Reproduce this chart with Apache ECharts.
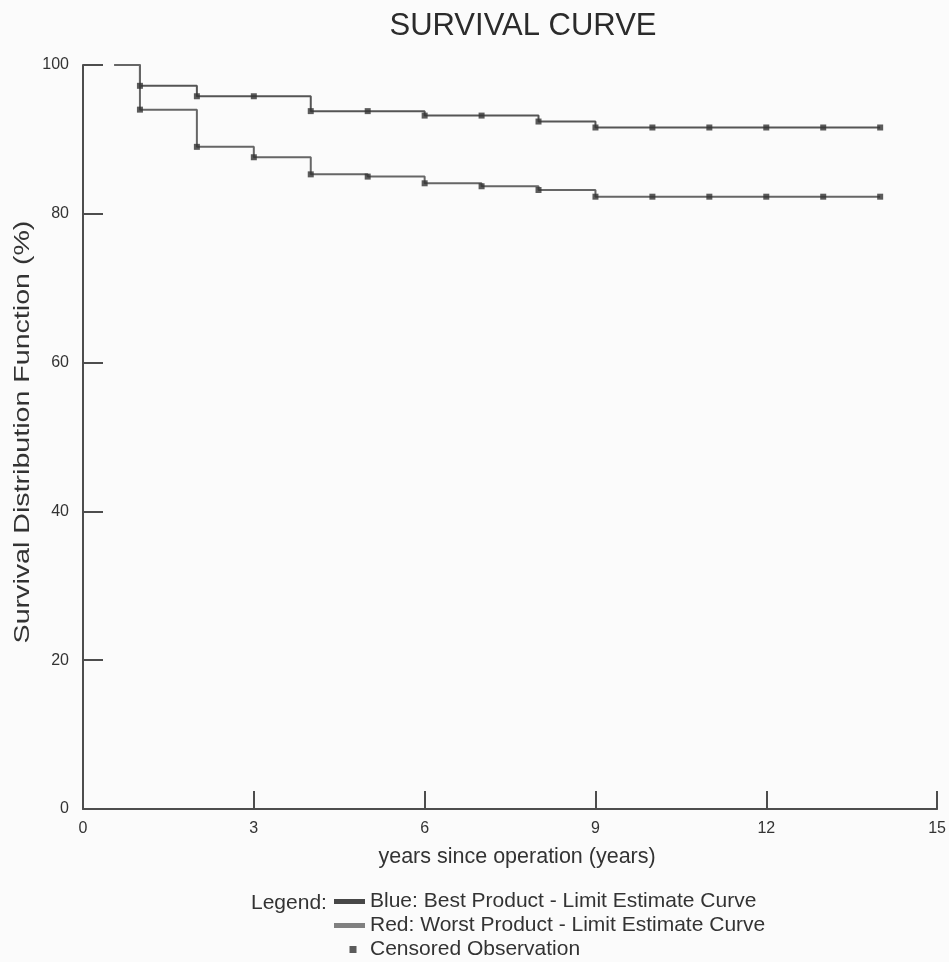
<!DOCTYPE html>
<html>
<head>
<meta charset="utf-8">
<script src="https://cdn.jsdelivr.net/npm/echarts@6/dist/echarts.min.js"></script>
<style>
html,body{margin:0;padding:0;background:#fbfbfb;}
#chart{width:949px;height:962px;}
</style>
</head>
<body>
<div id="chart"></div>
<script>
// ---- data ----
var titleText = 'SURVIVAL CURVE';
var xAxisTitle = 'years since operation (years)';
var yAxisTitle = 'Survival Distribution Function (%)';
var xTicks = [0, 3, 6, 9, 12, 15];
var yTicks = [0, 20, 40, 60, 80, 100];
var startYear = 0.55;          // curves begin here at 100%
var startValue = 100;
var eventYears = [1, 2, 3, 4, 5, 6, 7, 8, 9, 10, 11, 12, 13, 14];
var blueValues = [97.2, 95.8, 95.8, 93.8, 93.8, 93.2, 93.2, 92.4, 91.6, 91.6, 91.6, 91.6, 91.6, 91.6];
var redValues  = [94.0, 89.0, 87.6, 85.3, 85.0, 84.1, 83.7, 83.2, 82.3, 82.3, 82.3, 82.3, 82.3, 82.3];
var blueName = 'Blue: Best Product - Limit Estimate Curve';
var redName = 'Red: Worst Product - Limit Estimate Curve';
var censorName = 'Censored Observation';

// ---- build series data ----
function curve(vals) {
  var d = [[startYear, startValue]];
  for (var i = 0; i < eventYears.length; i++) d.push([eventYears[i], vals[i]]);
  return d;
}
var censorData = [];
for (var i = 0; i < eventYears.length; i++) {
  censorData.push([eventYears[i], blueValues[i]]);
  censorData.push([eventYears[i], redValues[i]]);
}

var FONT = '"Liberation Sans", Arial, Helvetica, sans-serif';
var axisColor = '#4d4d4d';

var chart = echarts.init(document.getElementById('chart'), null, {renderer: 'canvas'});
chart.setOption({
  backgroundColor: '#fbfbfb',
  animation: false,
  textStyle: {fontFamily: FONT},
  title: [
    {text: titleText, left: 518, top: 6, textAlign: 'center',
     textStyle: {fontSize: 31, fontWeight: 'normal', color: '#2b2b2b', fontFamily: FONT}},
    {text: 'Legend:', left: 246, top: 888,
     textStyle: {fontSize: 21, fontWeight: 'normal', color: '#333', fontFamily: FONT}}
  ],
  grid: {left: 83, right: 9, top: 65, bottom: 153, containLabel: false},
  xAxis: {
    type: 'value', min: xTicks[0], max: xTicks[xTicks.length - 1], interval: xTicks[1] - xTicks[0],
    name: xAxisTitle, nameLocation: 'middle', nameGap: 37,
    nameTextStyle: {fontSize: 21.5, color: '#333', fontFamily: FONT, padding: [0, 0, 0, 14]},
    axisLine: {show: true, lineStyle: {color: axisColor, width: 2}},
    axisTick: {show: true, inside: true, length: 18, lineStyle: {color: axisColor, width: 2}},
    axisLabel: {fontSize: 16, color: '#333', margin: 12, fontFamily: FONT},
    splitLine: {show: false}
  },
  yAxis: {
    type: 'value', min: yTicks[0], max: yTicks[yTicks.length - 1], interval: yTicks[1] - yTicks[0],
    axisLine: {show: true, lineStyle: {color: axisColor, width: 2}},
    axisTick: {show: true, inside: true, length: 20, lineStyle: {color: axisColor, width: 2}},
    axisLabel: {fontSize: 16, color: '#333', margin: 14, fontFamily: FONT},
    splitLine: {show: false}
  },
  graphic: [{
    type: 'text', x: 12, y: 432, rotation: Math.PI / 2, scaleX: 1.3,
    style: {text: yAxisTitle, font: '22px ' + FONT, fill: '#333', textAlign: 'center', textVerticalAlign: 'top'}
  }],
  legend: {
    orient: 'vertical', left: 334, top: 891, itemWidth: 31, itemHeight: 7, itemGap: 3,
    selectedMode: false, padding: 0, symbolKeepAspect: true,
    textStyle: {fontSize: 21, lineHeight: 20, color: '#333', fontFamily: FONT},
    data: [
      {name: blueName, icon: 'path://M0,0h31v5h-31z'},
      {name: redName, icon: 'path://M0,0h31v5h-31z'},
      {name: censorName, icon: 'path://M-7,0L-7,0.01M0,0h7v7h-7z'}
    ]
  },
  series: [
    {name: blueName, type: 'line', step: 'end', data: curve(blueValues), showSymbol: false,
     color: '#474747', lineStyle: {color: '#555', width: 2}, z: 2},
    {name: redName, type: 'line', step: 'end', data: curve(redValues), showSymbol: false,
     color: '#808080', lineStyle: {color: '#666', width: 2}, z: 2},
    {name: censorName, type: 'scatter', data: censorData, symbol: 'rect', symbolSize: 6,
     itemStyle: {color: '#333'}, z: 3}
  ]
});
</script>
</body>
</html>
